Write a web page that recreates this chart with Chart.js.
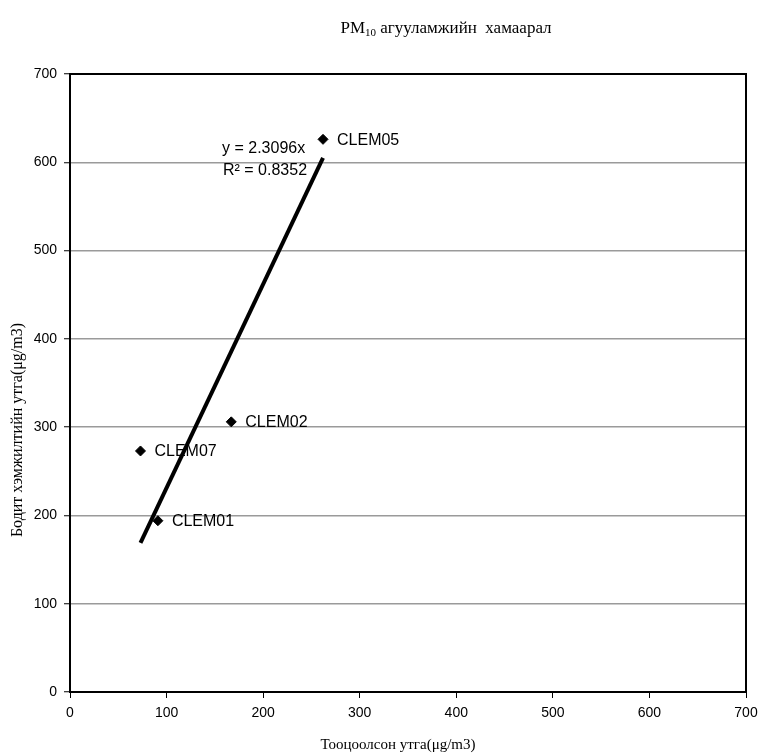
<!DOCTYPE html>
<html>
<head>
<meta charset="utf-8">
<script src="https://cdn.jsdelivr.net/npm/chart.js@4.4.0/dist/chart.umd.min.js"></script>
<style>
  body { margin: 0; background: #fff; }
  #wrap { width: 763px; height: 756px; }
</style>
</head>
<body>
<div id="wrap"><canvas id="pmChart"></canvas></div>
<script>
// measured points
const stations = ["CLEM01", "CLEM02", "CLEM05", "CLEM07"];
const calcValues = [91, 167, 262, 73];      // Тооцоолсон утга
const measValues = [194, 306, 626, 273];    // Бодит хэмжилтийн утга

// linear trendline (through origin), ends
const trendX = [73, 262];
const trendY = [169, 605];
const trendText = ["y = 2.3096x", "R² = 0.8352"];

const axisTicks = [0, 100, 200, 300, 400, 500, 600, 700];

const titleMain = "PM";
const titleSub = "10";
const titleRest = " агууламжийн  хамаарал";
const xTitle = "Тооцоолсон утга(μg/m3)";
const yTitle = "Бодит хэмжилтийн утга(μg/m3)";

const sans = "'Liberation Sans', Arial, sans-serif";
const serif = "'Liberation Serif', 'Times New Roman', serif";

const points = calcValues.map((v, i) => ({x: v, y: measValues[i]}));
const trend = trendX.map((v, i) => ({x: v, y: trendY[i]}));

// frame, labels and titles drawn on top of the chart
const extras = {
    id: "extras",
    afterDatasetsDraw(chart) {
        const {ctx, chartArea, scales} = chart;
        const {left, top, right, bottom} = chartArea;
        ctx.save();

        // box around plot area
        ctx.strokeStyle = "#000";
        ctx.lineWidth = 2;
        ctx.strokeRect(left, top, right - left, bottom - top);

        // point labels
        ctx.fillStyle = "#000";
        ctx.font = "16px " + sans;
        ctx.textBaseline = "middle";
        ctx.textAlign = "left";
        points.forEach((p, i) => {
            const px = scales.x.getPixelForValue(p.x);
            const py = scales.y.getPixelForValue(p.y);
            ctx.fillText(stations[i], px + 14, py + 1);
        });

        // trendline equation
        ctx.fillText(trendText[0], 222, 149);
        ctx.fillText(trendText[1], 223, 171);

        // chart title
        ctx.font = "17px " + serif;
        ctx.textBaseline = "alphabetic";
        let w1 = ctx.measureText(titleMain).width;
        ctx.font = "11px " + serif;
        let w2 = ctx.measureText(titleSub).width;
        ctx.font = "17px " + serif;
        let w3 = ctx.measureText(titleRest).width;
        let x0 = 446 - (w1 + w2 + w3) / 2;
        ctx.fillText(titleMain, x0, 33);
        ctx.font = "11px " + serif;
        ctx.fillText(titleSub, x0 + w1, 36);
        ctx.font = "17px " + serif;
        ctx.fillText(titleRest, x0 + w1 + w2, 33);

        // axis titles
        ctx.font = "15px " + serif;
        ctx.textAlign = "center";
        ctx.textBaseline = "middle";
        ctx.fillText(xTitle, 398, 745);
        ctx.font = "16px " + serif;
        ctx.translate(18, 430);
        ctx.rotate(-Math.PI / 2);
        ctx.fillText(yTitle, 0, 0);

        ctx.restore();
    }
};

const ctx = document.getElementById("pmChart").getContext("2d");
new Chart(ctx, {
    type: "scatter",
    data: {
        datasets: [
            {
                label: "Trend",
                type: "line",
                data: trend,
                borderColor: "#000",
                borderWidth: 4,
                pointRadius: 0,
                fill: false
            },
            {
                label: "PM10",
                data: points,
                pointStyle: "rectRot",
                pointRadius: 5,
                pointHoverRadius: 5,
                backgroundColor: "#000",
                borderColor: "#000"
            }
        ]
    },
    options: {
        responsive: true,
        maintainAspectRatio: false,
        animation: false,
        layout: {
            padding: {top: 74, right: 17, left: 0, bottom: 0}
        },
        plugins: {
            legend: {display: false},
            tooltip: {enabled: false},
            title: {display: false}
        },
        scales: {
            x: {
                type: "linear",
                min: 0,
                max: 700,
                afterBuildTicks: scale => {
                    scale.ticks = axisTicks.map(v => ({value: v}));
                },
                afterFit: scale => {
                    scale.height = 64;
                    scale.paddingLeft = 0;
                    scale.paddingRight = 0;
                },
                border: {color: "#000", width: 2},
                grid: {drawOnChartArea: false, tickLength: 6, tickColor: "#000", tickWidth: 1},
                ticks: {color: "#000", font: {family: sans, size: 14}, padding: 7, maxRotation: 0}
            },
            y: {
                type: "linear",
                min: 0,
                max: 700,
                afterBuildTicks: scale => {
                    scale.ticks = axisTicks.map(v => ({value: v}));
                },
                afterFit: scale => {
                    scale.width = 70;
                    scale.paddingTop = 0;
                    scale.paddingBottom = 0;
                },
                border: {color: "#000", width: 2},
                grid: {color: "#9a9a9a", lineWidth: 1.5, tickLength: 6, tickColor: "#000", tickWidth: 1},
                ticks: {color: "#000", font: {family: sans, size: 14}, padding: 7}
            }
        }
    },
    plugins: [extras]
});
</script>
</body>
</html>
